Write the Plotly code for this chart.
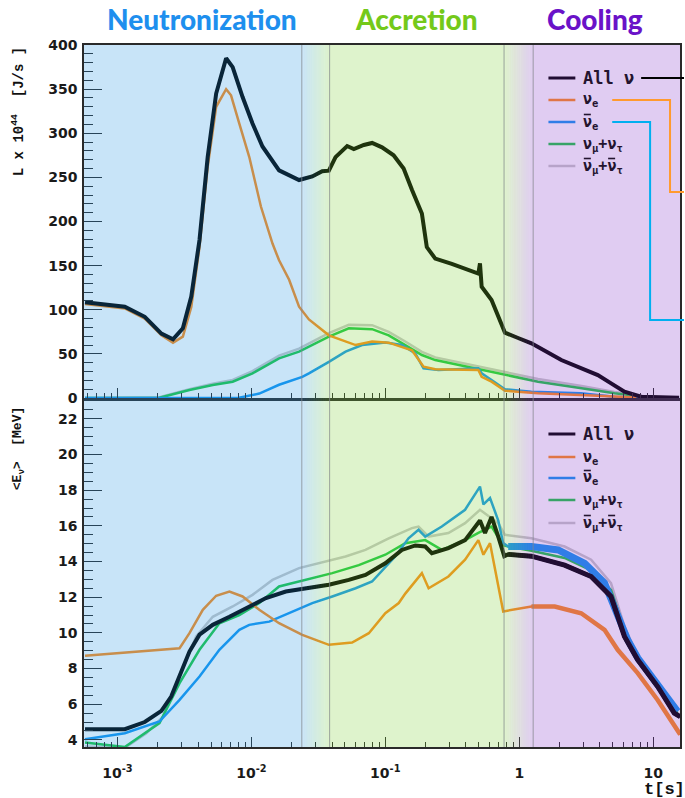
import numpy as np
import plotly.graph_objects as go

# ---------------- data ----------------
# Luminosity L x 10^44 [J/s] versus time [s]
t_all_L = [0.000573, 0.001135, 0.0016, 0.00213, 0.0026, 0.00308, 0.00356, 0.0041, 0.00472, 0.00546,
           0.00648, 0.00725, 0.0086, 0.0102, 0.0121, 0.0161, 0.0227, 0.0285, 0.0338, 0.0379,
           0.0425, 0.0519, 0.0582, 0.0691, 0.0797, 0.0945, 0.1153, 0.137, 0.158, 0.1875,
           0.204, 0.236, 0.3135, 0.417, 0.495, 0.509, 0.524, 0.621, 0.697, 0.782,
           0.98, 1.233, 2.06, 3.86, 4.85, 6.10, 8.11, 15.6]
L_all = [108.4, 103.5, 92, 73, 66.5, 79, 115, 179, 273, 345,
         385, 375, 341, 311, 285, 258, 247, 251, 257, 257.6,
         273, 285.5, 282, 286.7, 289, 284, 275, 260, 236, 209,
         171, 158, 152, 145, 141, 152.6, 126, 111, 92, 74,
         68, 62, 43, 26, 16.6, 7.1, 1.5, 0.3]

t_nue_L = [0.000573, 0.001135, 0.0016, 0.00213, 0.0026, 0.00308, 0.00356, 0.0041, 0.00472, 0.00546,
           0.00648, 0.00705, 0.00813, 0.00965, 0.01178, 0.01438, 0.0161, 0.01914, 0.0227, 0.0269,
           0.0379, 0.0477, 0.060, 0.0797, 0.106, 0.158, 0.193, 0.236, 0.495, 0.524,
           0.621, 0.782, 1.38, 3.86, 7.5]
L_nue = [106.4, 101.5, 90, 71, 62.7, 69.5, 103, 171, 262, 330,
         350, 343, 311, 273, 217, 175, 156, 134, 103.5, 89,
         71, 65.7, 60, 64, 62.7, 54, 35.5, 32.5, 31.7, 24,
         18.5, 8.3, 5.3, 2.5, 0.5]

t_anue_L = [0.000573, 0.0081, 0.01146, 0.0161, 0.0240, 0.0269, 0.0379, 0.0505, 0.0671, 0.100,
            0.133, 0.1675, 0.1928, 0.2494, 0.495, 0.524, 0.621, 0.782, 1.233, 2.88,
            5.14, 8.05, 15.6]
L_anue = [0.0, 0.3, 5, 15, 24, 28, 41, 52.5, 60, 63,
          60, 50.6, 33.6, 31.7, 33.6, 28, 20.4, 9.9, 7, 5.3,
          1.5, 0.2, 0.0]

t_numu_L = [0.000573, 0.00206, 0.00345, 0.00515, 0.00725, 0.0102, 0.0161, 0.0227, 0.0379, 0.0534,
            0.0797, 0.106, 0.1409, 0.1875, 0.236, 0.495, 0.782, 1.381, 2.92, 5.14,
            9.08, 15.6]
L_numu = [0.0, 0.3, 9, 14.7, 18.5, 28, 45, 52.5, 69.5, 79,
          78, 71, 60, 48.7, 43, 32.5, 26, 18.5, 11, 5.3,
          1, 0.2]
L_anumu = [0.0, 0.8, 10, 16.2, 20.5, 30.5, 48, 56, 73.5, 83,
           82.5, 75, 64, 52.2, 46, 35.5, 29, 21.5, 13.5, 6.8,
           1.5, 0.2]

# Mean energy <E_nu> [MeV] versus time [s]
t_all_E = [0.000573, 0.001135, 0.0016, 0.00213, 0.00252, 0.00291, 0.00345, 0.0041, 0.00515, 0.00686,
           0.00965, 0.01285, 0.01808, 0.02545, 0.0379, 0.0534, 0.0711, 0.100, 0.133, 0.1675,
           0.1986, 0.2225, 0.2958, 0.394, 0.509, 0.555, 0.621, 0.697, 0.773, 0.827,
           1.233, 2.18, 3.44, 4.84, 6.10, 7.66, 10.79, 14.36, 15.9]
E_all = [4.6, 4.6, 5.0, 5.63, 6.43, 7.65, 8.95, 9.9, 10.45, 10.9,
         11.44, 11.95, 12.32, 12.5, 12.7, 12.97, 13.25, 13.9, 14.65, 14.9,
         14.84, 14.47, 14.75, 15.2, 16.3, 15.6, 16.5, 15.4, 14.3, 14.4,
         14.3, 13.8, 13.16, 12.04, 9.8, 8.49, 6.99, 5.5, 5.3]

t_nue_E = [0.000573, 0.00291, 0.00345, 0.00434, 0.00546, 0.00686, 0.0086, 0.01146, 0.0161, 0.0240,
           0.0379, 0.0565, 0.0753, 0.100, 0.126, 0.141, 0.1875, 0.2105, 0.2958, 0.394,
           0.495, 0.540, 0.605, 0.759, 1.233, 1.84, 2.90, 4.33, 5.43, 7.66,
           10.79, 15.2, 15.9]
E_nue = [8.71, 9.14, 9.98, 11.29, 12.08, 12.32, 12.04, 11.29, 10.54, 9.89,
         9.33, 9.46, 9.98, 11.1, 11.67, 12.2, 13.35, 12.5, 13.16, 14.1,
         15.2, 14.38, 15.03, 11.2, 11.48, 11.48, 11.1, 10.17, 9.05, 7.74,
         6.24, 4.56, 4.3]

t_anue_E = [0.000573, 0.001135, 0.00206, 0.00291, 0.0041, 0.00577, 0.00813, 0.00965, 0.0136, 0.0202,
            0.0285, 0.0402, 0.0600, 0.0797, 0.119, 0.149, 0.177, 0.1986, 0.264, 0.394,
            0.509, 0.540, 0.605, 0.697, 0.759, 0.827, 1.233, 1.95, 3.08, 4.33,
            5.43, 6.46, 7.66, 10.79, 15.2]
E_anue = [4.04, 4.37, 5.03, 6.24, 7.55, 9.05, 10.17, 10.45, 10.63, 11.2,
          11.67, 12.04, 12.5, 12.88, 14.3, 15.3, 15.78, 15.4, 15.96, 16.9,
          18.2, 17.2, 17.56, 16.3, 15.03, 14.84, 14.84, 14.65, 13.9, 12.79,
          11.1, 9.6, 8.6, 7.05, 5.6]

t_numu_E = [0.000573, 0.001135, 0.00206, 0.00291, 0.0041, 0.00577, 0.00813, 0.01146, 0.0161, 0.02545,
            0.0402, 0.0634, 0.100, 0.141, 0.1986, 0.264, 0.394, 0.495, 0.621, 0.759,
            1.233, 2.18, 3.44, 4.84, 6.10, 7.66, 10.79, 15.2]
E_numu = [3.85, 3.6, 4.94, 7.18, 9.05, 10.54, 11.0, 11.67, 12.6, 12.97,
          13.35, 13.8, 14.38, 15.03, 15.2, 14.65, 15.2, 15.6, 15.96, 14.9,
          14.6, 14.2, 13.5, 12.4, 10.2, 8.55, 7.0, 5.5]

t_anumu_E = [0.000573, 0.001135, 0.001644, 0.002188, 0.00291, 0.00387, 0.00515, 0.00725, 0.0102, 0.01438,
             0.0227, 0.0359, 0.0505, 0.0711, 0.106, 0.158, 0.177, 0.2105, 0.2958, 0.394,
             0.509, 0.697, 0.782, 1.233, 2.18, 3.44, 4.84, 6.10, 7.66, 10.79,
             15.2]
E_anumu = [3.63, 3.55, 4.37, 5.3, 7.55, 9.8, 10.9, 11.48, 12.13, 12.97,
           13.63, 14.0, 14.28, 14.65, 15.3, 15.87, 15.96, 15.4, 15.6, 16.15,
           16.9, 16.15, 15.5, 15.3, 14.84, 14.1, 12.79, 10.36, 8.67, 7.1,
           5.6]

# phase boundaries [s]: neutronization | accretion | cooling (with blended transitions)
phase_edges = [0.0238, 0.0384, 0.77, 1.27]
phase_names = ["Neutronization", "Accretion", "Cooling"]

x_tick_vals = [1e-3, 1e-2, 1e-1, 1, 10]
x_tick_text = ["10<sup>-3</sup>", "10<sup>-2</sup>", "10<sup>-1</sup>", "1", "10"]

# legend labels; antineutrino bars are drawn as short overlines on top of the nu glyphs
legend_labels = ["All \u03bd", "\u03bd<sub>e</sub>", "\u03bd<sub>e</sub>",
                 "\u03bd<sub>\u03bc</sub>+\u03bd<sub>\u03c4</sub>",
                 "\u03bd<sub>\u03bc</sub>+\u03bd<sub>\u03c4</sub>"]
legend_bars = [[], [], [0], [], [0, 1]]   # which nu glyphs of each label carry a bar

# ---------------- style ----------------
W, H = 685, 798
ML, MR, MT, MB = 84, 3, 45, 51
XR = [np.log10(5.63e-4), np.log10(15.85)]
AX = "#2a2a2a"
C_ALL, C_NUE, C_ANUE, C_NUMU, C_ANUMU = "#000000", "#ff8c1a", "#1496f0", "#1ec846", "#c8c8c8"
series_colors = [C_ALL, C_NUE, C_ANUE, C_NUMU, C_ANUMU]
series_widths = [4, 2.5, 2.5, 2.5, 2.5]
# in the cooling tail the energy curves are fluctuating bands; drawn wider there
cool_widths = [5, 4.5, 7, 0, 0]
T_COOL = 0.82
TINT_ALPHA = 0.25
TINT_BLUE, TINT_GREEN, TINT_PURPLE = (35, 147, 227), (123, 207, 51), (131, 51, 203)

def fx(xpix):
    return (xpix - ML) / (W - ML - MR)

def fy(ypix):
    return (H - MB - ypix) / (H - MT - MB)

def ft(t):
    return (np.log10(t) - XR[0]) / (XR[1] - XR[0])

TOP_DOM = [fy(398), 1.0]
BOT_DOM = [0.0, fy(401)]

fig = go.Figure()

top_series = [(t_all_L, L_all), (t_nue_L, L_nue), (t_anue_L, L_anue),
              (t_numu_L, L_numu), (t_numu_L, L_anumu)]
bot_series = [(t_all_E, E_all), (t_nue_E, E_nue), (t_anue_E, E_anue),
              (t_numu_E, E_numu), (t_anumu_E, E_anumu)]
draw_order = [4, 3, 2, 1, 0]

for i in draw_order:
    tt, yy = top_series[i]
    fig.add_trace(go.Scatter(x=tt, y=yy, mode="lines", xaxis="x", yaxis="y",
                             line=dict(color=series_colors[i], width=series_widths[i]),
                             hoverinfo="skip"))
for i in draw_order:
    tt, yy = bot_series[i]
    fig.add_trace(go.Scatter(x=tt, y=yy, mode="lines", xaxis="x2", yaxis="y2",
                             line=dict(color=series_colors[i], width=series_widths[i]),
                             hoverinfo="skip"))
    if cool_widths[i] > 0:
        sel = [k for k, tv in enumerate(tt) if tv >= T_COOL]
        fig.add_trace(go.Scatter(x=[tt[k] for k in sel], y=[yy[k] for k in sel], mode="lines",
                                 xaxis="x2", yaxis="y2",
                                 line=dict(color=series_colors[i], width=cool_widths[i]),
                                 hoverinfo="skip"))

shapes = []

# legend samples (tinted together with the plot)
leg_top_y = [78, 100, 122, 144, 166]
leg_bot_y = [434, 457, 478, 500, 523]
for ys in (leg_top_y, leg_bot_y):
    for k, yp in enumerate(ys):
        shapes.append(dict(type="line", xref="paper", yref="paper", x0=fx(550), x1=fx(577),
                           y0=fy(yp), y1=fy(yp),
                           line=dict(color=series_colors[k], width=3 if k == 0 else 2.5),
                           layer="above"))

# phase tint overlays
def rgb(c):
    return "rgb(%d,%d,%d)" % tuple(int(round(v)) for v in c)

def add_band(x0, x1, c):
    shapes.append(dict(type="rect", xref="paper", yref="paper", x0=x0, x1=x1, y0=0, y1=1,
                       fillcolor=rgb(c), opacity=TINT_ALPHA, line=dict(width=0), layer="above"))

add_band(0, ft(phase_edges[0]), TINT_BLUE)
add_band(ft(phase_edges[1]), ft(phase_edges[2]), TINT_GREEN)
add_band(ft(phase_edges[3]), 1, TINT_PURPLE)
NSTRIP = 16
for (a, b, ca, cb) in [(phase_edges[0], phase_edges[1], TINT_BLUE, TINT_GREEN),
                       (phase_edges[2], phase_edges[3], TINT_GREEN, TINT_PURPLE)]:
    xa, xb = ft(a), ft(b)
    for s in range(NSTRIP):
        u = (s + 0.5) / NSTRIP
        c = [ca[j] + (cb[j] - ca[j]) * u for j in range(3)]
        add_band(xa + (xb - xa) * s / NSTRIP, xa + (xb - xa) * (s + 1) / NSTRIP, c)

# thin gray phase separator lines
for te in phase_edges:
    shapes.append(dict(type="line", xref="paper", yref="paper", x0=ft(te), x1=ft(te),
                       y0=0, y1=1, line=dict(color="rgba(130,135,140,0.75)", width=1),
                       layer="above"))

# connector leaders from the upper legend
def leader(pts, color):
    path = "M " + " L ".join("%.5f,%.5f" % (fx(px), fy(py)) for px, py in pts)
    shapes.append(dict(type="path", xref="paper", yref="paper", path=path,
                       line=dict(color=color, width=2), layer="above"))

leader([(643, 78), (686, 78)], "#000000")
leader([(614, 100), (672, 100), (672, 192), (686, 192)], "#ff9a2e")
leader([(614, 122), (652, 122), (652, 320), (686, 320)], "#00aff0")

LEG_TXT = "#24142f"
LEG_FS = 15
CH_W = 0.602 * LEG_FS            # monospace advance
NU_X = [584.5, 584.5 + CH_W * 2 + CH_W * 0.7]   # left edge of 1st and 2nd nu glyph
for ys in (leg_top_y, leg_bot_y):
    for k, yp in enumerate(ys):
        for g in legend_bars[k]:
            x0 = NU_X[g] + 1
            shapes.append(dict(type="line", xref="paper", yref="paper",
                               x0=fx(x0), x1=fx(x0 + CH_W - 2), y0=fy(yp - 7.5), y1=fy(yp - 7.5),
                               line=dict(color=LEG_TXT, width=1.6), layer="above"))

annotations = []
title_x = [202, 418, 597]
title_col = ["#1e8fee", "#74c91a", "#6a12c8"]
for name, xp, col in zip(phase_names, title_x, title_col):
    annotations.append(dict(text=name, xref="paper", yref="paper", x=fx(xp), y=fy(19),
                            xanchor="center", yanchor="middle", showarrow=False,
                            font=dict(family="Lato", size=28, color=col, weight=900)))

for ys in (leg_top_y, leg_bot_y):
    for k, yp in enumerate(ys):
        annotations.append(dict(text=legend_labels[k], xref="paper", yref="paper",
                                x=fx(583), y=fy(yp), xanchor="left", yanchor="middle",
                                showarrow=False,
                                font=dict(family="DejaVu Sans Mono", size=17 if k == 0 else LEG_FS,
                                          color=LEG_TXT, weight="bold")))

annotations.append(dict(text="L x 10<sup>44</sup>  [J/s ]", xref="paper", yref="paper",
                        x=fx(18), y=fy(112), textangle=-90, showarrow=False,
                        xanchor="center", yanchor="middle",
                        font=dict(family="Liberation Mono", size=14, color="#111", weight="bold")))
annotations.append(dict(text="&lt;E<sub>\u03bd</sub>&gt;  [MeV]", xref="paper", yref="paper",
                        x=fx(18), y=fy(448), textangle=-90, showarrow=False,
                        xanchor="center", yanchor="middle",
                        font=dict(family="Liberation Mono", size=13, color="#111", weight="bold")))
annotations.append(dict(text="t[s]", xref="paper", yref="paper", x=fx(666), y=fy(789),
                        xanchor="center", yanchor="middle", showarrow=False,
                        font=dict(family="Liberation Mono", size=17, color="#111", weight="bold")))

minor_vals = [m * 10.0 ** d for d in range(-4, 2) for m in range(2, 10)]
tickfont = dict(family="DejaVu Sans", size=14, color="#1a1a1a", weight="bold")

xcommon = dict(type="log", range=XR, domain=[0, 1], tickmode="array", tickvals=x_tick_vals,
               ticktext=x_tick_text, ticks="inside", ticklen=10, tickwidth=1.3, tickcolor=AX,
               minor=dict(tickmode="array", tickvals=minor_vals, ticks="inside", ticklen=5,
                          tickwidth=1, tickcolor=AX, showgrid=False),
               showline=True, mirror=True, linecolor=AX, linewidth=1.5,
               showgrid=False, zeroline=False, tickfont=tickfont)
ycommon = dict(ticks="inside", ticklen=18, tickwidth=1.3, tickcolor=AX,
               showline=True, mirror=True, linecolor=AX, linewidth=1.5,
               showgrid=False, zeroline=False, tickfont=tickfont, ticklabelstandoff=2)

fig.update_layout(
    width=W, height=H, margin=dict(l=ML, r=MR, t=MT, b=MB),
    paper_bgcolor="white", plot_bgcolor="white", showlegend=False,
    xaxis=dict(xcommon, anchor="y", showticklabels=False),
    xaxis2=dict(xcommon, anchor="y2", ticklabelstandoff=12),
    yaxis=dict(ycommon, domain=TOP_DOM, anchor="x", range=[0, 400], dtick=50, tick0=0,
               minor=dict(dtick=10, ticks="inside", ticklen=9, tickwidth=1, tickcolor=AX)),
    yaxis2=dict(ycommon, domain=BOT_DOM, anchor="x2", range=[3.6, 23.0], dtick=2, tick0=0,
                minor=dict(dtick=0.5, ticks="inside", ticklen=9, tickwidth=1, tickcolor=AX)),
    shapes=shapes, annotations=annotations,
)

fig.write_html("out.html")
